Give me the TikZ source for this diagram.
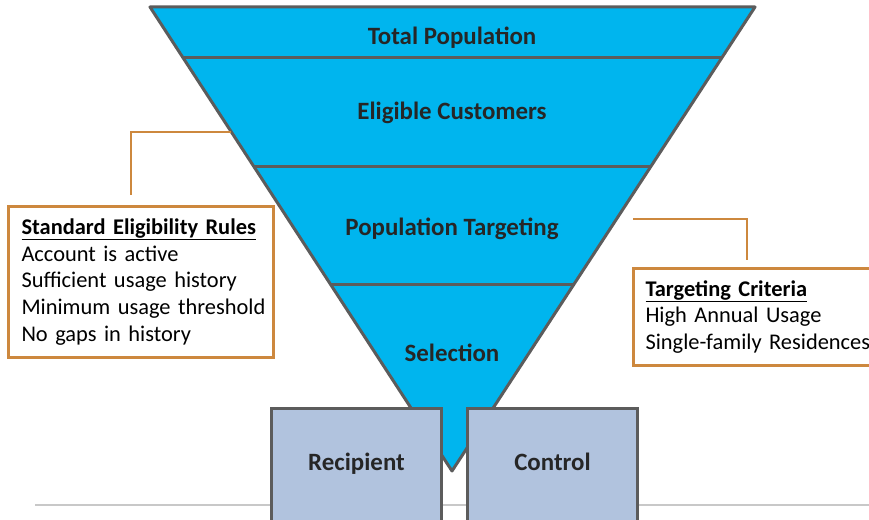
\documentclass[tikz,border=0pt]{standalone}
\usepackage{fontspec}
\setmainfont{Carlito}
\usetikzlibrary{positioning,calc}
\definecolor{funnelblue}{RGB}{0,181,238}
\definecolor{edgegray}{RGB}{92,92,92}
\definecolor{groupblue}{RGB}{177,195,222}
\definecolor{textdark}{RGB}{38,38,38}
\definecolor{ruleorange}{RGB}{205,136,62}
\definecolor{footgray}{RGB}{200,200,200}

\begin{document}
\begin{tikzpicture}[x=1bp,y=-1bp]
		\tikzstyle{stage} = [font=\fontsize{25}{30}\selectfont\bfseries, text=textdark]
		\tikzstyle{group} = [draw=edgegray, line width=3bp, fill=groupblue, minimum width=170bp, minimum height=114bp, text height=1.2em, text depth=0.1em, anchor=north west, font=\fontsize{25}{30}\selectfont\bfseries, text=textdark]
		\tikzstyle{rulebox} = [draw=ruleorange, line width=3bp, fill=white, anchor=north west, align=left, inner xsep=12bp, font=\fontsize{22.5}{27}\selectfont, text=black]
		\tikzstyle{link} = [draw=ruleorange, line width=2bp]
		\useasboundingbox (0,0) rectangle (869,520);
		\clip (0,0) rectangle (869,520);

		\draw [footgray, line width=1.5bp] (35,505) -- (869,505);

		% funnel
		\coordinate (tl) at (150,7);
		\coordinate (tr) at (755,7);
		\coordinate (apex) at (452,471);
		\draw [fill=funnelblue, draw=edgegray, line width=3bp, line join=round] (tl) -- (tr) -- (apex) -- cycle;
		\draw [edgegray, line width=3bp] ($(tl)!0.1078!(apex)$) -- ($(tr)!0.1078!(apex)$);
		\draw [edgegray, line width=3bp] ($(tl)!0.3448!(apex)$) -- ($(tr)!0.3448!(apex)$);
		\draw [edgegray, line width=3bp] ($(tl)!0.5991!(apex)$) -- ($(tr)!0.5991!(apex)$);

		\node [stage] (total) at (452,38) {Total Population};
		\node [stage] (eligible) at (452,113) {Eligible Customers};
		\node [stage] (targeting) at (452,229) {Population Targeting};
		\node [stage] (selection) at (452,353) {Selection};

		% side notes
		\node [rulebox, minimum width=265bp, minimum height=151bp, text width=239bp] (rules) at (7,205) {\underline{\textbf{Standard Eligibility Rules}}\\Account is active\\Sufficient usage history\\\mbox{Minimum usage threshold}\\No gaps in history};
		\node [rulebox, minimum width=280bp, minimum height=97bp, inner xsep=11bp, text width=256bp] (criteria) at (632,267) {\underline{\textbf{Targeting Criteria}}\\High Annual Usage\\Single-family Residences};

		\coordinate (ledge) at ($(tl)!0.2694!(apex)$);
		\coordinate (lfree) at (131,195);
		\draw [link] (ledge) -| (lfree);
		\coordinate (rstart) at (633,219);
		\coordinate (rfree) at (747,260);
		\draw [link] (rstart) -| (rfree);

		% groups
		\node [group] (recipient) at (270,407) {Recipient};
		\node [group] (control) at (466,407) {Control};
\end{tikzpicture}
\end{document}
